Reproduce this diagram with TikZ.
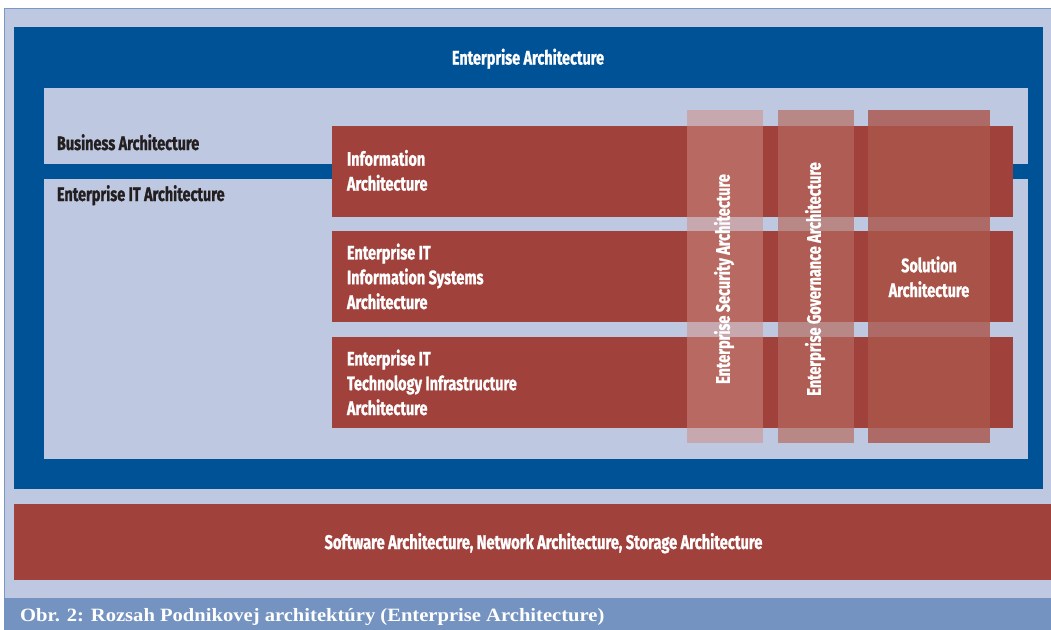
\documentclass[tikz,border=0pt]{standalone}
\usepackage{fontspec}
\setmainfont{Liberation Serif}
\newfontfamily\fut[FakeStretch=0.74,FakeBold=1]{Fira Sans}
\newfontfamily\capfont[FakeStretch=1.095]{Liberation Serif}
\definecolor{lightbg}{RGB}{190,201,225}
\definecolor{darkblue}{RGB}{0,82,150}
\definecolor{archred}{RGB}{160,65,60}
\definecolor{capbar}{RGB}{116,147,192}
\definecolor{framec}{RGB}{122,152,200}
\definecolor{darktext}{RGB}{35,31,32}
\definecolor{colA}{RGB}{205,141,131}
\definecolor{colB}{RGB}{182,107,95}
\definecolor{colC}{RGB}{170,86,75}
\begin{document}
\begin{tikzpicture}[x=1pt,y=-1pt,
  blk/.style={draw=none,inner sep=0,outer sep=0,anchor=north west},
  lab/.style={font=\fut\bfseries\fontsize{19.5}{24.8}\selectfont,text=white,inner sep=0,outer sep=0},
  dlab/.style={lab,text=darktext},
  rowlab/.style={lab,align=left,anchor=base west}]
\useasboundingbox (0,0) rectangle (1051,629);
% outer frame and caption bar
\node[blk,fill=lightbg,draw=framec,line width=1pt,minimum width=1060pt,minimum height=630pt] (frame) at (4,8) {};
\node[blk,fill=capbar,minimum width=1060pt,minimum height=40pt] (capbar) at (4,598) {};
% enterprise architecture frame
\node[blk,fill=darkblue,minimum width=1029pt,minimum height=462pt] (ea) at (14,27) {};
\node[blk,fill=lightbg,minimum width=984pt,minimum height=371pt] (inner) at (44,88) {};
\node[blk,fill=darkblue,minimum width=984pt,minimum height=15pt] (band) at (44,164) {};
% red rows
\node[blk,fill=archred,minimum width=681pt,minimum height=91pt] (r1) at (332,126) {};
\node[blk,fill=archred,minimum width=681pt,minimum height=91pt] (r2) at (332,231) {};
\node[blk,fill=archred,minimum width=681pt,minimum height=91pt] (r3) at (332,337) {};
% bottom red band
\node[blk,fill=archred,minimum width=1050pt,minimum height=76pt] (infra) at (14,504) {};
% translucent columns
\node[blk,fill=colA,fill opacity=0.54,minimum width=76pt,minimum height=333pt] (c1) at (687,110) {};
\node[blk,fill=colB,fill opacity=0.69,minimum width=76pt,minimum height=333pt] (c2) at (778,110) {};
\node[blk,fill=colC,fill opacity=0.82,minimum width=122pt,minimum height=333pt] (c3) at (868,110) {};
% texts
\node[lab,anchor=base] (tea) at (528,64.5) {Enterprise Architecture};
\node[dlab,anchor=base west] (tba) at (57,150) {Business Architecture};
\node[dlab,anchor=base west] (tita) at (57,201) {Enterprise IT Architecture};
\node[rowlab] (t1) at (347,190.5) {Information\\Architecture};
\node[rowlab] (t2) at (347,309) {Enterprise IT\\Information Systems\\Architecture};
\node[rowlab] (t3) at (347,415) {Enterprise IT\\Technology Infrastructure\\Architecture};
\node[lab,align=center,anchor=base] (tsol) at (929,297) {Solution\\Architecture};
\node[lab,rotate=90,anchor=center] (tsec) at (724,279) {Enterprise Security Architecture};
\node[lab,rotate=90,anchor=center] (tgov) at (815,279) {Enterprise Governance Architecture};
\node[lab,anchor=base,font=\fut\bfseries\fontsize{19.8}{24.8}\selectfont] (tinfra) at (543.5,549) {Software Architecture, Network Architecture, Storage Architecture};
\node[font=\capfont\bfseries\fontsize{18.8}{22}\selectfont,text=white,inner sep=0,anchor=base west] (cap) at (20,621.5) {Obr. 2: Rozsah Podnikovej architektúry (Enterprise Architecture)};
\end{tikzpicture}
\end{document}
